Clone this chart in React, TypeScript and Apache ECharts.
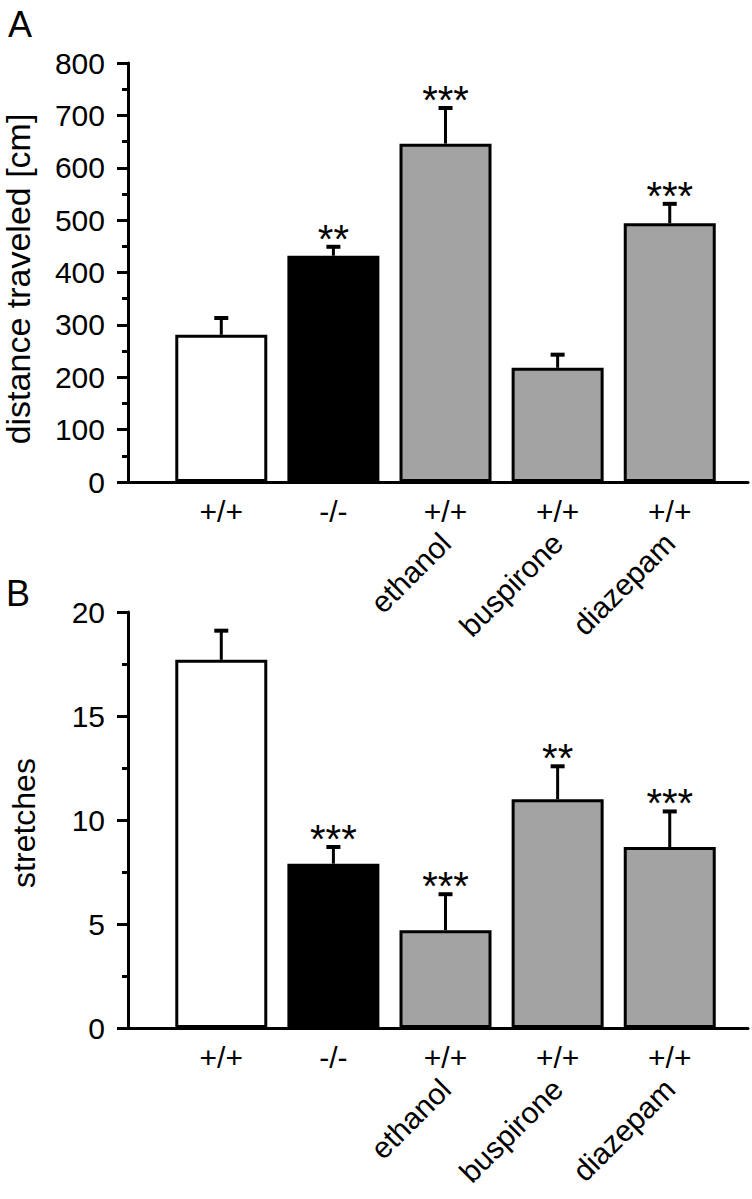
import React, { useEffect, useRef } from 'react';
import * as echarts from 'echarts';

const groupLabels = ['+/+', '-/-', '+/+', '+/+', '+/+'];
const drugLabels = ['', '', 'ethanol', 'buspirone', 'diazepam'];
const distanceMean = [281, 432, 646, 218, 494];
const distanceSem = [34, 19, 70, 27, 39];
const distanceSig = ['', '**', '***', '', '***'];
const stretchMean = [17.7, 7.9, 4.7, 11.0, 8.7];
const stretchSem = [1.45, 0.85, 1.78, 1.63, 1.76];
const stretchSig = ['', '***', '***', '**', '***'];
const barColors = ['#ffffff', '#000000', '#a3a3a3', '#a3a3a3', '#a3a3a3'];

const FONT = '"Liberation Sans", Arial, Helvetica, sans-serif';
const X_MIN = -0.832;
const X_MAX = 4.698;

function makeXAxes(gridIndex: number) {
  return [
    {
      type: 'value', gridIndex, min: X_MIN, max: X_MAX, position: 'bottom',
      axisLine: { show: true, onZero: false, lineStyle: { color: '#000', width: 3 } },
      axisTick: { show: false }, splitLine: { show: false },
      axisLabel: {
        customValues: [0, 1, 2, 3, 4],
        formatter: (v: number) => groupLabels[Math.round(v)] ?? '',
        fontSize: 30, fontFamily: FONT, color: '#000', margin: 14,
      },
    },
    {
      type: 'value', gridIndex, min: X_MIN, max: X_MAX, position: 'bottom',
      axisLine: { show: false }, axisTick: { show: false }, splitLine: { show: false },
      axisLabel: {
        customValues: [2, 3, 4],
        formatter: (v: number) => drugLabels[Math.round(v)] ?? '',
        rotate: 45, fontSize: 30, fontFamily: FONT, color: '#000', margin: 56,
      },
    },
  ];
}

function makeYAxis(gridIndex: number, max: number, interval: number) {
  return {
    type: 'value', gridIndex, min: 0, max, interval,
    axisLine: { show: true, onZero: false, lineStyle: { color: '#000', width: 3 } },
    axisTick: { show: true, length: 11, lineStyle: { color: '#000', width: 3 } },
    minorTick: { show: true, splitNumber: 2, length: 6, lineStyle: { color: '#000', width: 3 } },
    splitLine: { show: false }, minorSplitLine: { show: false },
    axisLabel: { fontSize: 30, fontFamily: FONT, color: '#000', margin: 23 },
  };
}

function barSeries(axis: number, means: number[]) {
  return {
    type: 'bar', xAxisIndex: axis * 2, yAxisIndex: axis, barWidth: 92,
    itemStyle: { borderColor: '#000', borderWidth: 3 },
    data: means.map((v, i) => ({ value: [i, v], itemStyle: { color: barColors[i] } })),
    z: 2,
  };
}

function errSeries(axis: number, means: number[], sems: number[], sig: string[]) {
  return {
    type: 'custom', xAxisIndex: axis * 2, yAxisIndex: axis, z: 3,
    data: means.map((v, i) => [i, v, sems[i]]),
    renderItem: (params: any, api: any) => {
      const x = api.value(0);
      const m = api.value(1);
      const e = api.value(2);
      const p0 = api.coord([x, m]);
      const p1 = api.coord([x, m + e]);
      const children: any[] = [
        { type: 'line', shape: { x1: p0[0], y1: p0[1], x2: p1[0], y2: p1[1] + 1 }, style: { stroke: '#000', lineWidth: 3 } },
        { type: 'line', shape: { x1: p1[0] - 7, y1: p1[1] + 1, x2: p1[0] + 7, y2: p1[1] + 1 }, style: { stroke: '#000', lineWidth: 4 } },
      ];
      const s = sig[params.dataIndex];
      if (s) {
        children.push({
          type: 'text', x: p1[0], y: p1[1] + 13,
          style: { text: s, fontSize: 40, fontFamily: FONT, fill: '#000', align: 'center', verticalAlign: 'bottom' },
        });
      }
      return { type: 'group', children };
    },
  };
}

export default function App() {
  const ref = useRef<HTMLDivElement>(null);
  useEffect(() => {
    document.body.style.margin = '0';
    const chart = echarts.init(ref.current!, undefined, { renderer: 'svg' });
    chart.setOption({
      animation: false,
      backgroundColor: '#fff',
      grid: [
        { left: 128, right: 4, top: 63, height: 419 },
        { left: 128, right: 4, top: 612, height: 416 },
      ],
      xAxis: [...makeXAxes(0), ...makeXAxes(1)],
      yAxis: [makeYAxis(0, 800, 100), makeYAxis(1, 20, 5)],
      series: [
        barSeries(0, distanceMean),
        errSeries(0, distanceMean, distanceSem, distanceSig),
        barSeries(1, stretchMean),
        errSeries(1, stretchMean, stretchSem, stretchSig),
      ],
      graphic: [
        { type: 'text', x: 8, y: 6, style: { text: 'A', fontSize: 36, fontFamily: FONT, fill: '#000' } },
        { type: 'text', x: 6, y: 575, style: { text: 'B', fontSize: 36, fontFamily: FONT, fill: '#000' } },
        { type: 'text', x: 18, y: 279, rotation: Math.PI / 2, style: { text: 'distance traveled [cm]', fontSize: 34, fontFamily: FONT, fill: '#000', align: 'center', verticalAlign: 'middle' } },
        { type: 'text', x: 24, y: 823, rotation: Math.PI / 2, style: { text: 'stretches', fontSize: 32, fontFamily: FONT, fill: '#000', align: 'center', verticalAlign: 'middle' } },
      ],
    });
    return () => chart.dispose();
  }, []);
  return <div ref={ref} style={{ width: 752, height: 1199 }} />;
}
